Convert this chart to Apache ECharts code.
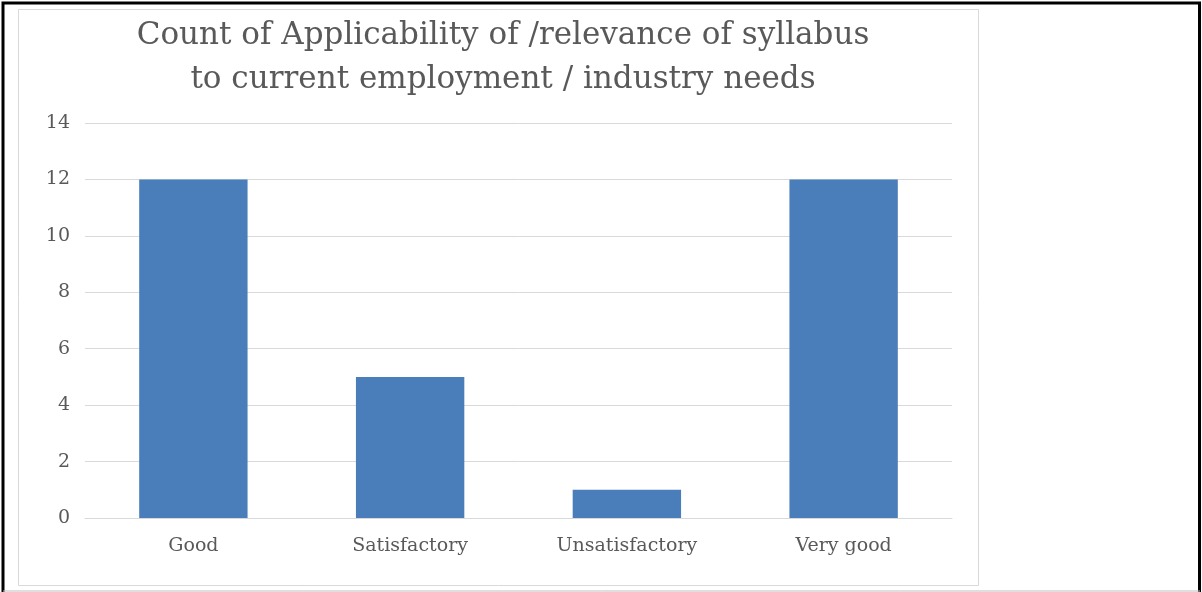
<!DOCTYPE html>
<html><head><meta charset="utf-8">
<script src="https://cdn.jsdelivr.net/npm/echarts@6/dist/echarts.min.js"></script>
<style>html,body{margin:0;padding:0;background:#fff}#c{width:1202px;height:592px}</style>
</head><body><div id="c"></div>
<script>
const categories = ['Good', 'Satisfactory', 'Unsatisfactory', 'Very good'];
const counts = [12, 5, 1, 12];
const yTicks = [0, 2, 4, 6, 8, 10, 12, 14];
const titleLines = ['Count of Applicability of /relevance of syllabus', 'to current employment / industry needs'];

const chart = echarts.init(document.getElementById('c'), null, {renderer: 'canvas'});
const font = 'DejaVu Serif';
chart.setOption({
  animation: false,
  backgroundColor: '#fff',
  title: {
    text: titleLines.join('\n'),
    left: 498, top: 9, textAlign: 'center',
    textStyle: {fontFamily: font, fontWeight: 'normal', fontSize: 31, color: '#595959', lineHeight: 44}
  },
  graphic: [
    {type: 'rect', shape: {x: 18.5, y: 9.5, width: 960, height: 576}, style: {fill: 'none', stroke: '#d9d9d9', lineWidth: 1}, z: -1},
    {type: 'polyline', shape: {points: [[3, 592], [3, 3], [1199.5, 3], [1199.5, 592]]}, style: {fill: 'none', stroke: '#000', lineWidth: 3}},
    {type: 'line', shape: {x1: 3, y1: 591, x2: 1200, y2: 591}, style: {stroke: '#bfbfbf', lineWidth: 1}}
  ],
  grid: {left: 85, right: 250, top: 123, bottom: 74},
  xAxis: {
    type: 'category', data: categories,
    axisLine: {show: true, lineStyle: {color: '#d9d9d9'}},
    axisTick: {show: false},
    axisLabel: {fontFamily: font, fontSize: 19, color: '#595959', margin: 19}
  },
  yAxis: {
    type: 'value', min: 0, max: 14, interval: 2,
    axisLine: {show: false}, axisTick: {show: false},
    splitLine: {lineStyle: {color: '#d9d9d9'}},
    axisLabel: {fontFamily: font, fontSize: 19, color: '#595959', margin: 15,
      formatter: v => yTicks.includes(v) ? String(v) : ''}
  },
  series: [{
    type: 'bar', data: counts, barWidth: '50%',
    itemStyle: {color: '#4a7ebb'}
  }]
});
</script></body></html>
